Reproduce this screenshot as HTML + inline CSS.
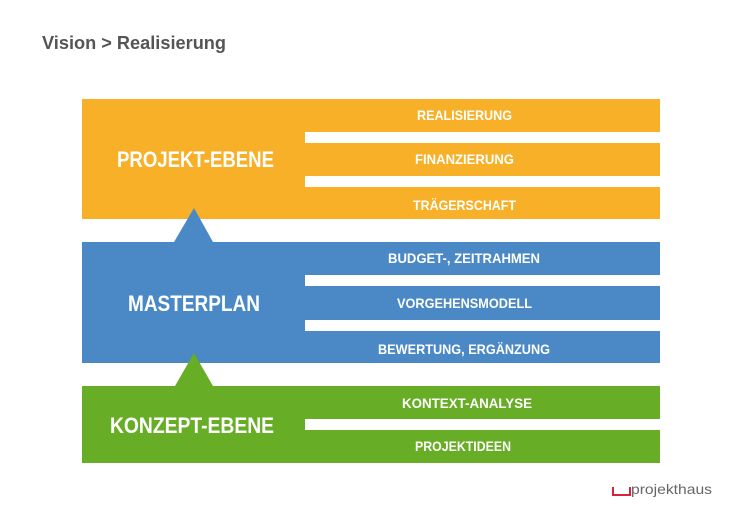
<!DOCTYPE html>
<html><head><meta charset="utf-8"><style>
html,body{margin:0;padding:0;background:#fff;}
svg{display:block;}
</style></head><body>
<svg width="753" height="510" viewBox="0 0 753 510" xmlns="http://www.w3.org/2000/svg" font-family="'Liberation Sans', sans-serif" font-weight="bold">
<text x="42" y="49" font-size="18" fill="#555" textLength="184" lengthAdjust="spacingAndGlyphs">Vision &gt; Realisierung</text>

<rect x="82" y="99" width="578" height="120" fill="#f7b027"/>
<rect x="305" y="132" width="355" height="11" fill="#fff"/>
<rect x="305" y="176" width="355" height="11" fill="#fff"/>

<rect x="82" y="242" width="578" height="121" fill="#4a89c5"/>
<rect x="305" y="275" width="355" height="11" fill="#fff"/>
<rect x="305" y="320" width="355" height="11" fill="#fff"/>
<polygon points="174,242 194,208 213,242" fill="#4a89c5"/>

<rect x="82" y="386" width="578" height="77" fill="#67ad25"/>
<rect x="305" y="419" width="355" height="11" fill="#fff"/>
<polygon points="175,386 194,353 213,386" fill="#67ad25"/>

<g fill="#fff">
<text x="117" y="167" font-size="22" textLength="157" lengthAdjust="spacingAndGlyphs">PROJEKT-EBENE</text>
<text x="128" y="311" font-size="22" textLength="132" lengthAdjust="spacingAndGlyphs">MASTERPLAN</text>
<text x="110" y="433" font-size="22" textLength="164" lengthAdjust="spacingAndGlyphs">KONZEPT-EBENE</text>
<g font-size="14">
<text x="417" y="120" textLength="95" lengthAdjust="spacingAndGlyphs">REALISIERUNG</text>
<text x="415" y="164" textLength="99" lengthAdjust="spacingAndGlyphs">FINANZIERUNG</text>
<text x="413" y="210" textLength="103" lengthAdjust="spacingAndGlyphs">TRÄGERSCHAFT</text>
<text x="388" y="263" textLength="152" lengthAdjust="spacingAndGlyphs">BUDGET-, ZEITRAHMEN</text>
<text x="397" y="308" textLength="135" lengthAdjust="spacingAndGlyphs">VORGEHENSMODELL</text>
<text x="378" y="354" textLength="172" lengthAdjust="spacingAndGlyphs">BEWERTUNG, ERGÄNZUNG</text>
<text x="402" y="408" textLength="130" lengthAdjust="spacingAndGlyphs">KONTEXT-ANALYSE</text>
<text x="415" y="451" textLength="96" lengthAdjust="spacingAndGlyphs">PROJEKTIDEEN</text>
</g>
</g>

<path d="M613,487 V495 H630 V487" fill="none" stroke="#d9223d" stroke-width="2"/>
<text x="631" y="494" font-size="14" font-weight="normal" fill="#666" textLength="81" lengthAdjust="spacingAndGlyphs">projekthaus</text>
</svg>
</body></html>
